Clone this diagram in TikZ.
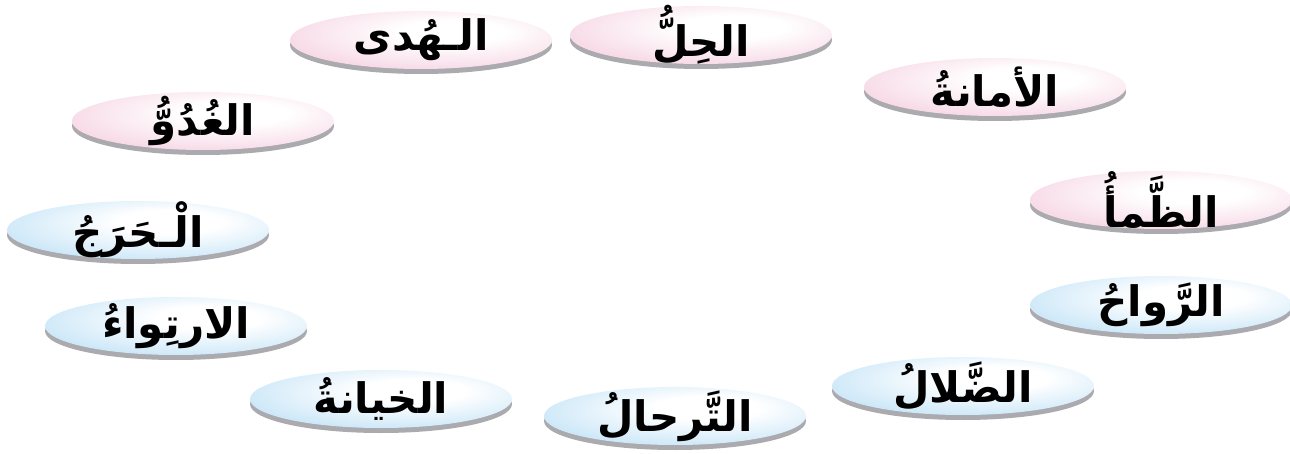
\documentclass[tikz,border=0pt]{standalone}
\usepackage{fontspec}
\usetikzlibrary{shapes.geometric}
\TeXXeTstate=1
\newfontfamily\arabicfont[Script=Arabic]{DejaVu Sans}
\definecolor{pinkedge}{RGB}{238,176,202}
\definecolor{blueedge}{RGB}{148,205,240}
\definecolor{shadowgray}{RGB}{170,170,175}
\pgfdeclareradialshading{pinkshade}{\pgfpoint{7bp}{8bp}}{color(0bp)=(white); color(10bp)=(white); color(55bp)=(pinkedge); color(80bp)=(pinkedge)}
\pgfdeclareradialshading{blueshade}{\pgfpoint{7bp}{8bp}}{color(0bp)=(white); color(10bp)=(white); color(55bp)=(blueedge); color(80bp)=(blueedge)}
\tikzset{
  bubble/.style={ellipse, minimum width=131pt, minimum height=29pt, inner sep=0pt,
    preaction={fill=shadowgray, transform canvas={yshift=-2.5pt}}},
  pinkbub/.style={bubble, shade, shading=pinkshade},
  bluebub/.style={bubble, shade, shading=blueshade},
  word/.style={inner sep=0pt, font=\arabicfont\bfseries\fontsize{21}{25}\selectfont},
}
\begin{document}
\begin{tikzpicture}[x=0.5pt,y=-0.5pt]
\useasboundingbox (0,0) rectangle (1290,454);
\node[pinkbub] (hoda) at (421,40) {};
\node[pinkbub] (hill) at (701,35) {};
\node[pinkbub] (amana) at (995,87) {};
\node[pinkbub] (ghuduw) at (203,121) {};
\node[pinkbub] (zama) at (1161,200) {};
\node[bluebub] (haraj) at (138,230) {};
\node[bluebub] (rawah) at (1161,305) {};
\node[bluebub] (irtiwa) at (176,326) {};
\node[bluebub] (dalal) at (963,386) {};
\node[bluebub] (khiyana) at (381,399) {};
\node[bluebub] (tarhal) at (675,416) {};
\node[word] (thoda) at (hoda) {\beginR الـهُدى\endR};
\node[word] (thill) at (hill) {\beginR الحِلُّ\endR};
\node[word] (tamana) at (amana) {\beginR الأمانةُ\endR};
\node[word] (tghuduw) at (ghuduw) {\beginR الغُدُوُّ\endR};
\node[word] (tzama) at (zama) {\beginR الظَّمأُ\endR};
\node[word] (tharaj) at (haraj) {\beginR الْـحَرَجُ\endR};
\node[word] (trawah) at (rawah) {\beginR الرَّواحُ\endR};
\node[word] (tirtiwa) at (irtiwa) {\beginR الارتِواءُ\endR};
\node[word] (tdalal) at (dalal) {\beginR الضَّلالُ\endR};
\node[word] (tkhiyana) at (khiyana) {\beginR الخيانةُ\endR};
\node[word] (ttarhal) at (tarhal) {\beginR التَّرحالُ\endR};
\end{tikzpicture}
\end{document}
